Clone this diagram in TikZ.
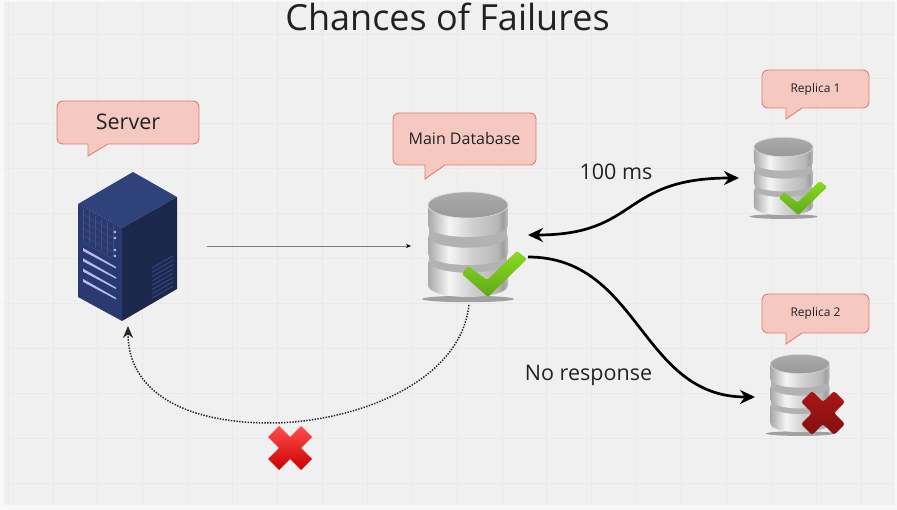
\documentclass[tikz,border=0pt]{standalone}
\usepackage{fontspec}
\setmainfont{Open Sans}
\usetikzlibrary{arrows.meta}

\definecolor{pagebg}{HTML}{F8F8F8}
\definecolor{boardbg}{HTML}{F0F0F0}
\definecolor{boardgrid}{HTML}{E9E9E9}
\definecolor{bubfill}{HTML}{F5C9C2}
\definecolor{bubline}{HTML}{E57D6C}
\definecolor{inktext}{HTML}{222222}
\definecolor{rackfront}{HTML}{2A3A70}
\definecolor{racktop}{HTML}{30427A}
\definecolor{rackside}{HTML}{1B274B}
\definecolor{ticklight}{HTML}{8ADB1E}
\definecolor{tickdark}{HTML}{5FA81C}
\definecolor{crosslight}{HTML}{A81616}
\definecolor{crossdark}{HTML}{851010}

\pgfdeclarehorizontalshading{dbside}{100bp}{color(0bp)=(black!34);color(25bp)=(black!34);color(38bp)=(black!4);color(52bp)=(black!18);color(68bp)=(black!28);color(72bp)=(black!38);color(75bp)=(black!24);color(100bp)=(black!24)}

\newcommand{\crosspath}{(0,-11) -- (-11,-22) -- (-22,-11) -- (-11,0) -- (-22,11) -- (-11,22) -- (0,11) -- (11,22) -- (22,11) -- (11,0) -- (22,-11) -- (11,-22) -- cycle}

\tikzset{
bubble/.style={draw=bubline, fill=bubfill, line width=.9pt},
bubtext/.style={text=inktext, inner sep=0pt},
note/.style={text=inktext, inner sep=0pt, font=\fontsize{21.5}{26}\selectfont},
link/.style={line width=2.7pt, -{Stealth[length=15pt,width=14pt]}},
db/.pic={
  \fill[black!50, opacity=.7] (0,94) circle [x radius=46, y radius=3.2];
  \fill[black!30] (-39,5) rectangle (39,75);
  \foreach \ytop/\ybot in {55/80,30/48,0/20}{
    \shade[shading=dbside] (-40,\ytop) -- (-40,\ybot) .. controls (-40,\ybot+16) and (40,\ybot+16) .. (40,\ybot) -- (40,\ytop)
       .. controls (40,\ytop+17) and (-40,\ytop+17) .. cycle;
  }
  \shade[top color=black!33, bottom color=black!40, draw=white!85!black, line width=.6pt] (0,0) circle [x radius=40, y radius=13];
},
tick/.pic={
  \shade[top color=ticklight, bottom color=tickdark, rounded corners=1.5pt]
    (0,61) -- (19,75) -- (49,46) -- (59,54) -- (20,92) -- (-6,69) -- cycle;
}
}

\newcommand{\speech}[8]{%
\draw[bubble] (#6,#4) [sharp corners] -- (#6,#7) -- (#6+#8,#4) [rounded corners=6pt] -- (#3,#4) -- (#3,#2) -- (#1,#2) -- (#1,#4) -- (#6,#4);
\path (#1,#2) -- (#3,#4) node[midway] (#5) {};}

\begin{document}
\begin{tikzpicture}[x=1pt,y=-1pt]
\useasboundingbox (0,0) rectangle (897,510);
\fill[pagebg] (0,0) rectangle (897,510);
\fill[boardbg] (4,2) rectangle (895,505);
\foreach \k in {0,...,19} \draw[boardgrid, line width=.8pt] (8+44.9*\k,2) -- (8+44.9*\k,505);
\foreach \k in {0,...,10} \draw[boardgrid, line width=.8pt] (4,34+44.9*\k) -- (895,34+44.9*\k);

\node[bubtext, font=\fontsize{36}{42}\selectfont] (Title) at (447.5,17) {Chances of Failures};

% callouts
\speech{57}{101}{199}{144}{SrvTag}{88}{156}{20}
\speech{393}{113}{536}{165}{MainTag}{425}{179}{20}
\speech{762}{70}{869}{108}{RepATag}{786}{119}{16}
\speech{762}{294}{869}{333}{RepBTag}{786}{344}{16}
\node[bubtext, font=\fontsize{21.5}{26}\selectfont, yshift=1pt] (SrvText) at (SrvTag) {Server};
\node[bubtext, font=\fontsize{16}{20}\selectfont] (MainText) at (MainTag) {Main Database};
\node[bubtext, font=\fontsize{12}{15}\selectfont] (RepAText) at (RepATag) {Replica 1};
\node[bubtext, font=\fontsize{12}{15}\selectfont] (RepBText) at (RepBTag) {Replica 2};

% server rack
\fill[racktop] (78,204) -- (133,172) -- (177,197) -- (122,228) -- cycle;
\fill[rackfront] (78,204) -- (122,228) -- (122,321) -- (78,297) -- cycle;
\fill[rackside] (122,228) -- (177,197) -- (177,289) -- (122,321) -- cycle;
\foreach \k in {0,...,4} \draw[racktop!92!white, line width=.4pt] (82,214+7*\k) -- (112,230.5+7*\k);
\foreach \k in {0,...,5} \draw[racktop!92!white, line width=.4pt] (83+6*\k,209+3.3*\k) -- (83+6*\k,241+3.3*\k);
\foreach \y in {232,238,250,256} \fill[blue!25!white] (115,\y) circle (1.4);
\foreach \k in {0,...,3} \fill[blue!28!white] (83,248+10.3*\k) -- (116,267+10.3*\k) -- (116,268.5+10.3*\k) -- (83,251+10.3*\k) -- cycle;
\foreach \k in {0,...,7} \draw[racktop, line width=1.2pt] (152,268+4.3*\k) -- (173,256+4.3*\k);

% databases
\pic at (468,205) {db};
\pic at (468,205) {tick};
\pic[scale=.74] at (783.5,147) {db};
\pic[scale=.74] at (783.5,147) {tick};
\pic[scale=.74] at (800,364) {db};

\shade[top color=crosslight, bottom color=crossdark, rounded corners=2.5pt, shift={(823,413)}] \crosspath;
\shade[top color=red!70!white, middle color=red!85!black, bottom color=red!80!black, shift={(290,448)}] \crosspath;

% connector ends
\coordinate (SrvOut) at (207,246);
\coordinate (MainIn) at (411,246);
\coordinate (MainDown) at (469,305);
\coordinate (ArcLow) at (270,423);
\coordinate (SrvIn) at (128,326);
\coordinate (MainSync) at (528,235);
\coordinate (RepAIn) at (739,178);
\coordinate (MainFail) at (528,257);
\coordinate (RepBIn) at (755,397);

\draw[black!50, line width=.8pt, -{Stealth[length=5pt,width=4pt,black]}] (SrvOut)--(MainIn);
\draw[line width=1.5pt, black!85, dash pattern=on 1.4pt off 1.4pt, -{Stealth[length=12pt,width=10pt]}] (MainDown) .. controls (460,385) and (350,423) .. (ArcLow) .. controls (185,423) and (128,392) .. (SrvIn);
\draw[link, {Stealth[length=15pt,width=14pt]}-{Stealth[length=15pt,width=14pt]}] (MainSync) .. controls (640,235) and (620,178) .. (RepAIn);
\draw[link] (MainFail) .. controls (640,257) and (640,397) .. (RepBIn);

\node[note] (Lat) at (616,172) {100 ms};
\node[note] (Lost) at (588.5,375) {No response};
\end{tikzpicture}
\end{document}
